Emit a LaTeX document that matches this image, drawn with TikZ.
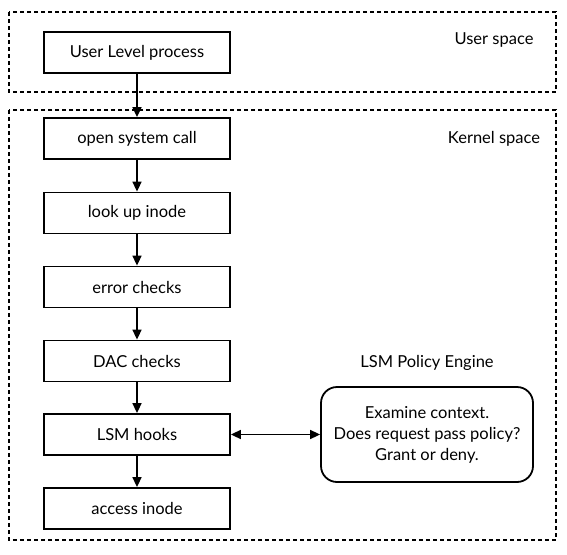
\documentclass[tikz,border=0pt]{standalone}
\usepackage{fontspec}
\setmainfont{Lato}
\usetikzlibrary{arrows.meta}
\begin{document}
\begin{tikzpicture}[x=1pt,y=-1pt,
  stepbox/.style={draw,line width=1.8pt,minimum width=186pt,minimum height=41pt,inner sep=0pt,font=\fontsize{16.5}{19}\selectfont},
  region/.style={draw,line width=1.6pt,dash pattern=on 4pt off 3pt},
  lbl/.style={font=\fontsize{16.5}{19}\selectfont},
  arr/.style={line width=1.6pt,-{Triangle[length=10pt,width=9pt]}},
  engine/.style={draw,line width=1.8pt,rounded corners=16pt,minimum width=212pt,minimum height=95pt,align=center,font=\fontsize{16.5}{21}\selectfont}]
\useasboundingbox (0,0) rectangle (567,554);
\draw[region] (9,12) rectangle (556,92);
\draw[region] (9,110) rectangle (556,540);
\node[lbl] (us) at (494,40) {User space};
\node[lbl] (ks) at (494,139) {Kernel space};
\node[lbl] (pe) at (427,363) {LSM Policy Engine};
\node[stepbox] (ulp) at (137,52.5) {User Level process};
\node[stepbox] (osc) at (137,138.5) {open system call};
\node[stepbox] (lui) at (137,213) {look up inode};
\node[stepbox] (ec) at (137,287) {error checks};
\node[stepbox] (dac) at (137,361) {DAC checks};
\node[stepbox] (lsm) at (137,434.5) {LSM hooks};
\node[stepbox] (ai) at (137,508.5) {access inode};
\node[engine] (eng) at (427,434.5) {Examine context.\\Does request pass policy?\\Grant or deny.};
\draw[arr] (ulp) -- (osc);
\draw[arr] (osc) -- (lui);
\draw[arr] (lui) -- (ec);
\draw[arr] (ec) -- (dac);
\draw[arr] (dac) -- (lsm);
\draw[arr] (lsm) -- (ai);
\draw[arr,{Triangle[length=10pt,width=9pt]}-{Triangle[length=10pt,width=9pt]}] (lsm) -- (eng);
\end{tikzpicture}
\end{document}
